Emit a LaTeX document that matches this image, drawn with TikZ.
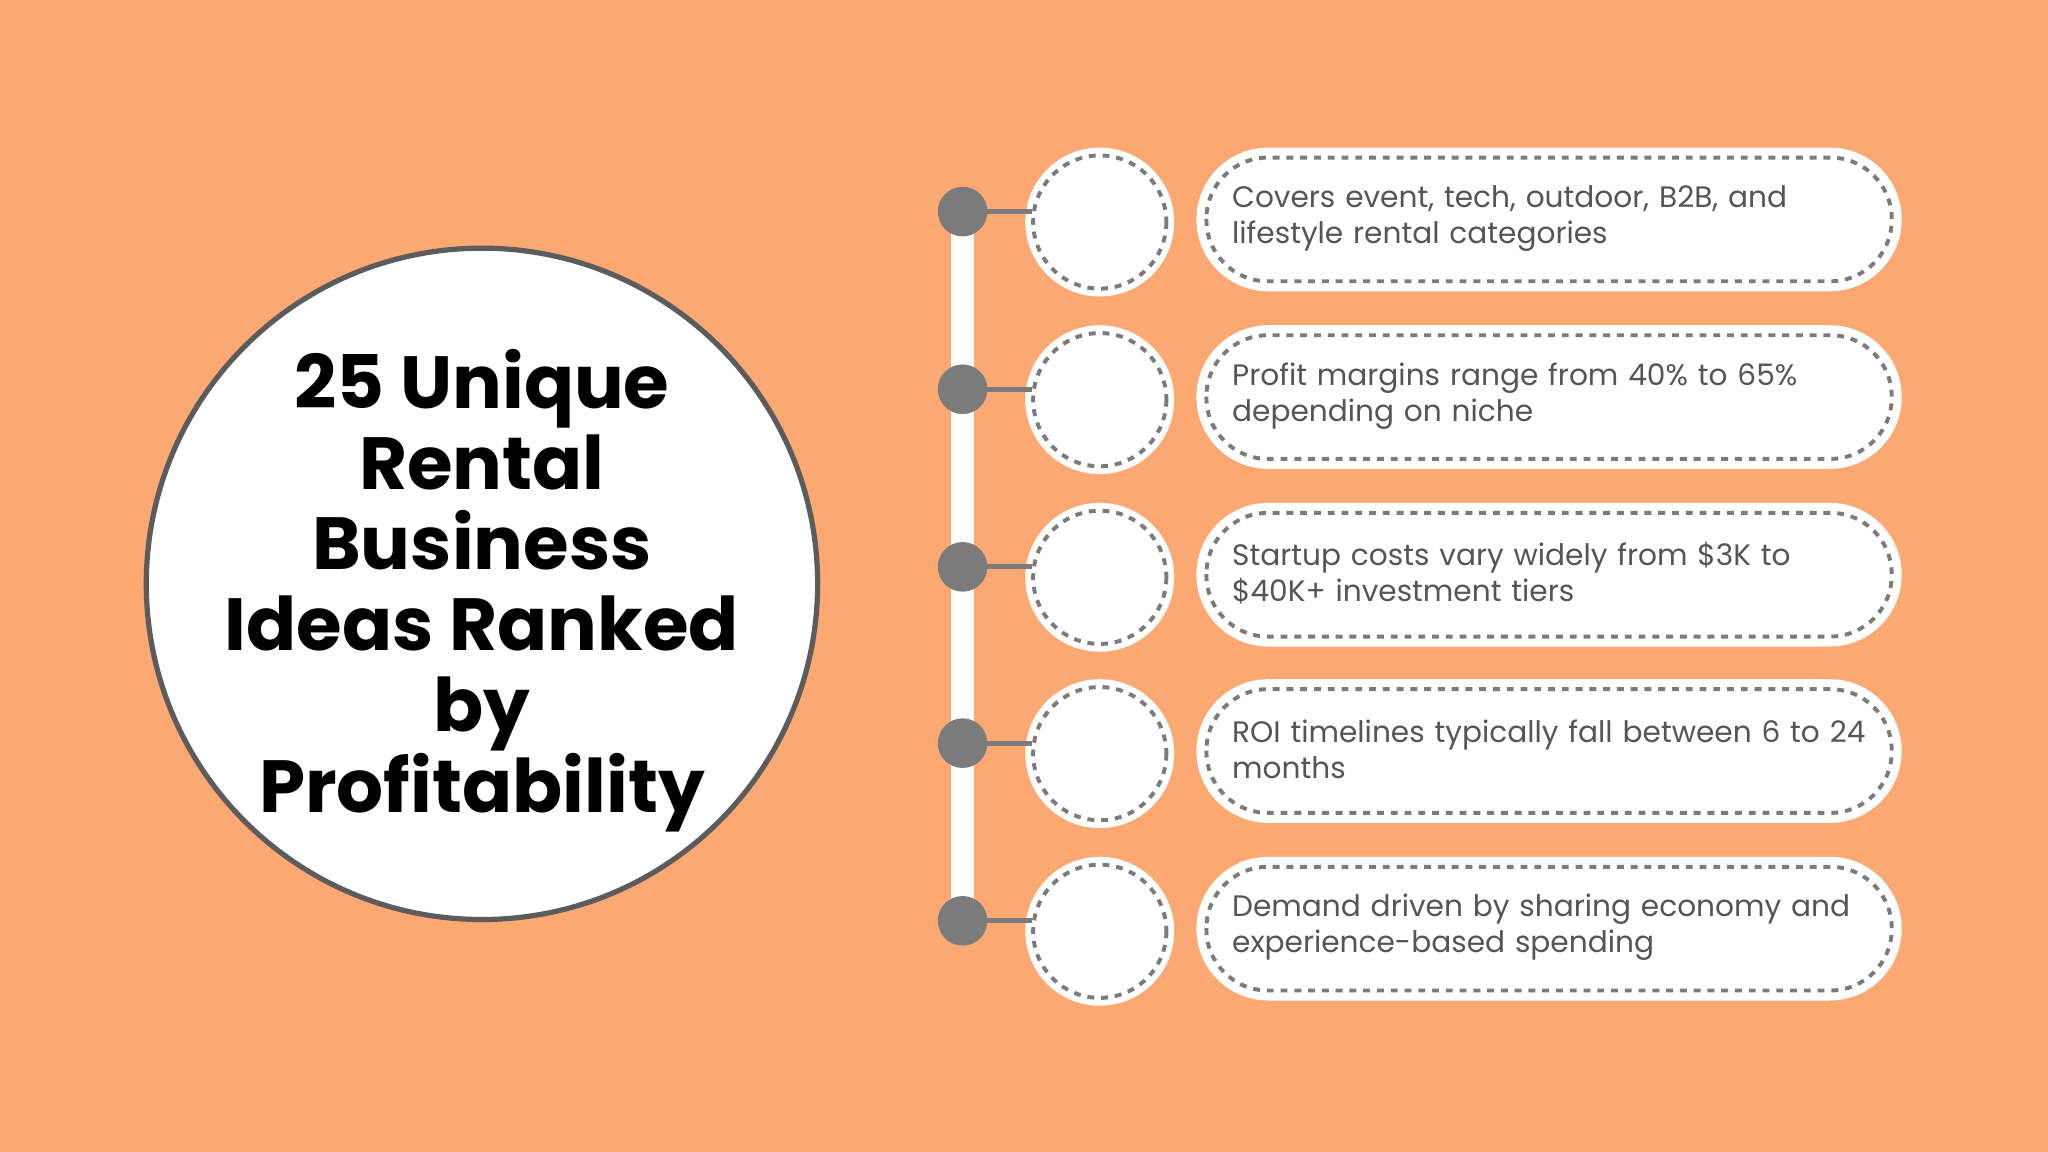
\documentclass[tikz,border=0pt]{standalone}
\usepackage{fontspec}
\setmainfont{Poppins}
\usetikzlibrary{positioning}
\definecolor{bgorange}{HTML}{FCA872}
\definecolor{rimgray}{HTML}{5C5C5C}
\definecolor{dotgray}{HTML}{7B7B7B}
\definecolor{txtgray}{HTML}{555555}
\begin{document}
\begin{tikzpicture}[x=0.02cm,y=-0.02cm]
\tikzstyle{dot}=[circle,fill=dotgray,minimum size=38*0.02cm,inner sep=0]
\tikzstyle{ring}=[circle,fill=white,minimum size=114*0.02cm,inner sep=0]
\tikzstyle{pill}=[rectangle,fill=white,rounded corners=55*0.02cm,minimum width=540*0.02cm,minimum height=110*0.02cm,inner sep=0]
\tikzstyle{info}=[text=txtgray,align=left,text width=510*0.02cm,font=\fontsize{12.9}{15.7}\selectfont,anchor=west,inner sep=0]

\fill[bgorange] (0,0) rectangle (1568,882);
\useasboundingbox (0,0) rectangle (1568,882);

% title circle
\node[circle,fill=white,draw=rimgray,line width=4*0.02cm,minimum size=514*0.02cm] (title) at (369,447) {};
\node[align=center,font=\fontsize{32.2}{35.2}\selectfont\bfseries] at ([yshift=-5*0.02cm]title.center) {25 Unique\\Rental\\Business\\Ideas Ranked\\by\\Profitability};

% spine
\coordinate (top) at (737,162);
\coordinate (bot) at (737,705);
\draw[white,line width=18*0.02cm] (top) -- (bot);

\foreach \i/\y/\t in {1/162/{Covers event, tech, outdoor, B2B, and\\lifestyle rental categories},
                      2/298/{Profit margins range from 40\% to 65\%\\depending on niche},
                      3/434/{Startup costs vary widely from \$3K to\\\$40K+ investment tiers},
                      4/569/{ROI timelines typically fall between 6 to 24\\months},
                      5/705/{Demand driven by sharing economy and\\experience-based spending}}{
  \node[ring] (R\i) at (842,\y+8) {};
  \coordinate (C\i) at (790,\y);
  \draw[dotgray,line width=4*0.02cm] (737,\y) -- (C\i);
  \node[dot] (D\i) at (737,\y) {};
  \draw[dotgray,dashed,line width=3*0.02cm] (R\i) circle (51);
  \node[pill] (P\i) at (1186,\y+6) {};
  \draw[dotgray,dashed,line width=3*0.02cm,rounded corners=47*0.02cm] ([xshift=8*0.02cm,yshift=-8*0.02cm]P\i.north west) rectangle ([xshift=-8*0.02cm,yshift=8*0.02cm]P\i.south east);
  \node[info] (T\i) at (943,\y+5) {\t};
}
\end{tikzpicture}
\end{document}
